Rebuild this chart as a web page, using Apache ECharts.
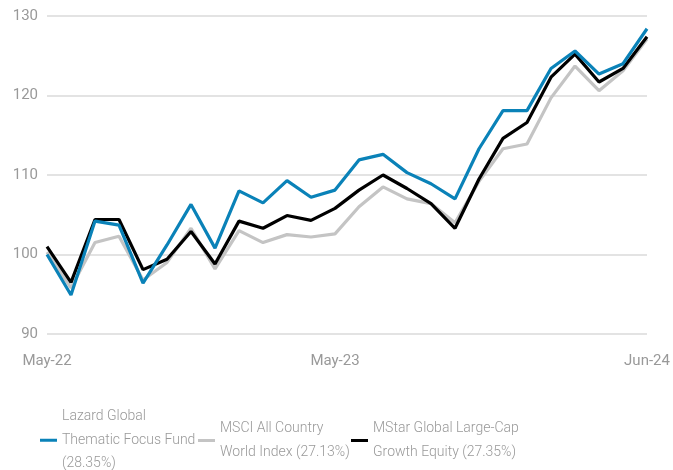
<!DOCTYPE html>
<html>
	<head>
		<meta charset="UTF-8">
		<title>Performance</title>
		<script src="https://cdn.jsdelivr.net/npm/echarts@6/dist/echarts.min.js"></script>
		<style>
			html, body { margin: 0; padding: 0; background: #fff; }
			#main { width: 673px; height: 470px; }
		</style>
	</head>
	<body>
		<div id="main"></div>
		<script type="text/javascript">
			var months = ['May-22', 'Jun-22', 'Jul-22', 'Aug-22', 'Sep-22', 'Oct-22', 'Nov-22', 'Dec-22',
				'Jan-23', 'Feb-23', 'Mar-23', 'Apr-23', 'May-23', 'Jun-23', 'Jul-23', 'Aug-23', 'Sep-23',
				'Oct-23', 'Nov-23', 'Dec-23', 'Jan-24', 'Feb-24', 'Mar-24', 'Apr-24', 'May-24', 'Jun-24'];
			var shownLabels = ['May-22', 'May-23', 'Jun-24'];

			var lazard = [100.0, 94.9, 104.2, 103.7, 96.4, 101.2, 106.3, 100.8, 108.0, 106.5, 109.3, 107.2, 108.1,
				111.9, 112.6, 110.3, 108.9, 107.0, 113.3, 118.1, 118.1, 123.4, 125.6, 122.7, 124.0, 128.4];
			var msci = [100.3, 95.8, 101.5, 102.3, 96.8, 99.0, 103.3, 98.2, 103.0, 101.5, 102.5, 102.2, 102.6,
				106.0, 108.5, 107.0, 106.4, 104.0, 109.2, 113.3, 113.9, 119.7, 123.7, 120.6, 123.1, 127.1];
			var mstar = [101.0, 96.5, 104.4, 104.4, 98.1, 99.4, 102.9, 98.8, 104.2, 103.3, 104.9, 104.3, 105.8,
				108.1, 110.0, 108.3, 106.4, 103.3, 109.5, 114.6, 116.6, 122.3, 125.2, 121.7, 123.4, 127.4];

			var names = ['Lazard Global\nThematic Focus Fund\n(28.35%)',
				'MSCI All Country\nWorld Index (27.13%)',
				'MStar Global Large-Cap\nGrowth Equity (27.35%)'];

			var txtColor = '#999999';
			var fontFam = 'Roboto, "Liberation Sans", sans-serif';

			function legendAt(name, left, top) {
				return {
					data: [name],
					left: left,
					top: top,
					icon: 'rect',
					itemWidth: 17,
					itemHeight: 3,
					itemGap: 6,
					padding: 0,
					selectedMode: false,
					textStyle: {
						color: txtColor,
						fontFamily: fontFam,
						fontSize: 14,
						fontWeight: 300,
						lineHeight: 23.5,
						padding: [0, 0, 0, 0]
					}
				};
			}

			var myChart = echarts.init(document.getElementById('main'));
			var option = {
				animation: false,
				grid: { left: 47, right: 26, top: 16, bottom: 136 },
				legend: [
					legendAt(names[0], 40, 405),
					legendAt(names[1], 198, 417),
					legendAt(names[2], 351, 417)
				],
				xAxis: {
					type: 'category',
					data: months,
					boundaryGap: false,
					axisLine: { show: false },
					axisTick: { show: false },
					axisLabel: {
						color: txtColor,
						fontFamily: fontFam,
						fontSize: 15,
						margin: 20,
						interval: function (idx, val) {
							return shownLabels.indexOf(val) >= 0;
						}
					}
				},
				yAxis: {
					type: 'value',
					min: 90,
					max: 130,
					interval: 10,
					axisLine: { show: false },
					axisTick: { show: false },
					axisLabel: {
						color: txtColor,
						fontFamily: fontFam,
						fontSize: 15,
						margin: 9
					},
					splitLine: { lineStyle: { color: '#dadada', width: 1.5 } }
				},
				series: [
					{
						name: names[0],
						type: 'line',
						data: lazard,
						z: 4,
						symbol: 'none',
						color: '#0a82b8',
						lineStyle: { width: 3.2, color: '#0a82b8' }
					},
					{
						name: names[1],
						type: 'line',
						data: msci,
						z: 2,
						symbol: 'none',
						color: '#c4c4c4',
						lineStyle: { width: 3.2, color: '#c4c4c4' }
					},
					{
						name: names[2],
						type: 'line',
						data: mstar,
						z: 3,
						symbol: 'none',
						color: '#000000',
						lineStyle: { width: 3.2, color: '#000000' }
					}
				]
			};
			myChart.setOption(option);
		</script>
	</body>
</html>
